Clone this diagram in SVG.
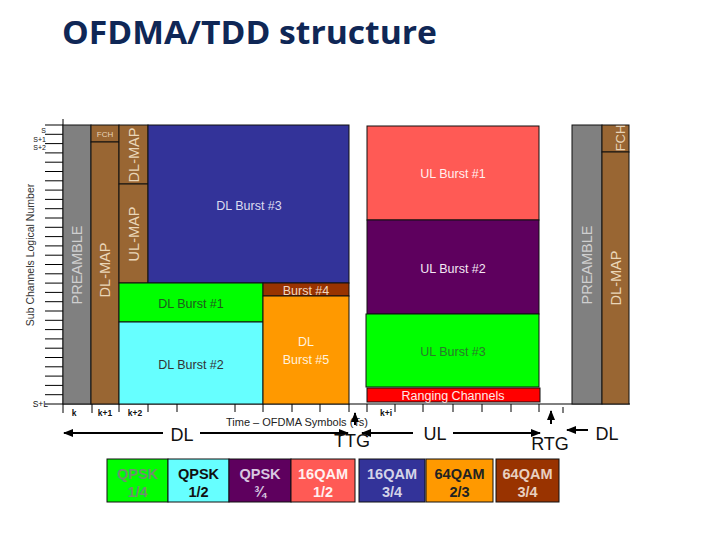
<svg xmlns="http://www.w3.org/2000/svg" width="720" height="540" viewBox="0 0 720 540">
<defs>
<marker id="ah" viewBox="0 0 10 10" refX="9" refY="5" markerWidth="5" markerHeight="5" orient="auto-start-reverse" markerUnits="strokeWidth">
<path d="M0,1 L10,5 L0,9 z" fill="#000"/>
</marker>
<style>
.t{font-family:"Liberation Sans",Arial,sans-serif}
.bx{stroke:#111;stroke-width:1}
.lab{font-family:"Liberation Sans",Arial,sans-serif;font-size:12.5px;text-anchor:middle}
.rot{font-family:"Liberation Sans",Arial,sans-serif;font-size:14.5px;text-anchor:middle}
.lg{font-family:"Liberation Sans",Arial,sans-serif;font-size:14.5px;font-weight:bold;text-anchor:middle}
.ax{stroke:#000;stroke-width:1;fill:none}
.arr{stroke:#000;stroke-width:2;fill:none}
.big{font-family:"Liberation Sans",Arial,sans-serif;font-size:18px;fill:#111}
.sm{font-family:"Liberation Sans",Arial,sans-serif;font-size:8.5px;fill:#111}
.ss{font-family:"Liberation Sans",Arial,sans-serif;font-size:7px;fill:#111;text-anchor:end}
</style>
</defs>
<rect width="720" height="540" fill="#fff"/>
<text x="62" y="44" font-family="'Open Sans','Noto Sans',sans-serif" font-weight="bold" font-size="32" fill="#0f2756" textLength="375" lengthAdjust="spacingAndGlyphs">OFDMA/TDD structure</text>

<g id="axes">
<path class="ax" d="M63,119 V404 M45,404 H630"/>
<path class="ax" d="M45,125H63 M45,134.3H63 M45,143.6H63 M45,152.9H63 M45,162.2H63 M45,171.5H63 M45,180.8H63 M45,190.1H63 M45,199.4H63 M45,208.7H63 M45,218H63 M45,227.3H63 M45,236.6H63 M45,245.9H63 M45,255.2H63 M45,264.5H63 M45,273.8H63 M45,283.1H63 M45,292.4H63 M45,301.7H63 M45,311H63 M45,320.3H63 M45,329.6H63 M45,338.9H63 M45,348.2H63 M45,357.5H63 M45,366.8H63 M45,376.1H63 M45,385.4H63 M45,394.7H63"/>
<path class="ax" d="M63,404V413 M92,404V413 M119,404V412 M148,404V412 M177,404V412 M235,404V412 M263,404V412 M292,404V412 M320,404V412 M349,404V412 M367,404V412 M395,404V412 M423,404V412 M453,404V412 M482,404V412 M511,404V412 M539,404V412 M563,407V413"/>
<text class="ss" x="46" y="133">S</text>
<text class="ss" x="46" y="141.5">S+1</text>
<text class="ss" x="46" y="150">S+2</text>
<text class="sm" x="48" y="407" text-anchor="end">S+L</text>
<text class="t" x="30" y="255" font-size="10.5" fill="#333" text-anchor="middle" transform="rotate(-90 30 255)" dy="3.5">Sub Channels Logical Number</text>
<text class="sm" x="74" y="416" text-anchor="middle" font-weight="bold">k</text>
<text class="sm" x="105" y="416" text-anchor="middle" font-weight="bold">k+1</text>
<text class="sm" x="135" y="416" text-anchor="middle" font-weight="bold">k+2</text>
<text class="sm" x="386" y="416" text-anchor="middle" font-weight="bold">k+i</text>
<text class="t" x="226" y="426" font-size="11" fill="#222">Time – OFDMA Symbols (Ts)</text>
</g>

<g id="preamble-dl">
<rect class="bx" x="63" y="125" width="28" height="279" fill="#808080"/>
<text class="rot" x="77" y="265" dy="5" fill="#cfcfcf" transform="rotate(-90 77 265)">PREAMBLE</text>
</g>
<g id="fch-dl">
<rect class="bx" x="91" y="125" width="28" height="17" fill="#996633"/>
<text class="t" x="105" y="137" font-size="8" fill="#e8d4b8" text-anchor="middle">FCH</text>
</g>
<g id="dlmap-1">
<rect class="bx" x="91" y="142" width="28" height="262" fill="#996633"/>
<text class="rot" x="105" y="270" dy="5" fill="#ead6b8" transform="rotate(-90 105 270)">DL-MAP</text>
</g>
<g id="dlmap-2">
<rect class="bx" x="119" y="125" width="29" height="59" fill="#996633"/>
<text class="rot" x="134" y="155" dy="5" fill="#ead6b8" transform="rotate(-90 134 155)">DL-MAP</text>
</g>
<g id="ulmap">
<rect class="bx" x="119" y="184" width="29" height="99" fill="#996633"/>
<text class="rot" x="134" y="234" dy="5" fill="#ead6b8" transform="rotate(-90 134 234)">UL-MAP</text>
</g>
<g id="dl-burst-3">
<rect class="bx" x="148" y="125" width="201" height="158" fill="#333399"/>
<text class="lab" x="249" y="210" fill="#dcdcf0">DL Burst #3</text>
</g>
<g id="dl-burst-1">
<rect class="bx" x="119" y="283" width="144" height="39" fill="#00ff00"/>
<text class="lab" x="191" y="308" fill="#1e5a1e">DL Burst #1</text>
</g>
<g id="dl-burst-2">
<rect class="bx" x="119" y="322" width="144" height="82" fill="#66ffff"/>
<text class="lab" x="191" y="369" fill="#333">DL Burst #2</text>
</g>
<g id="burst-4">
<rect class="bx" x="263" y="283" width="86" height="13" fill="#993300"/>
<text class="lab" x="306" y="295" fill="#f0d8c0">Burst #4</text>
</g>
<g id="dl-burst-5">
<rect class="bx" x="263" y="296" width="86" height="108" fill="#ff9900"/>
<text class="lab" x="306" y="346" fill="#fff2de">DL</text>
<text class="lab" x="306" y="364" fill="#fff2de">Burst #5</text>
</g>

<g id="ul-burst-1">
<rect class="bx" x="367" y="126" width="172" height="94" fill="#ff5a55"/>
<text class="lab" x="453" y="178" fill="#fff0f0">UL Burst #1</text>
</g>
<g id="ul-burst-2">
<rect class="bx" x="367" y="220" width="172" height="94" fill="#5e005e"/>
<text class="lab" x="453" y="273" fill="#f4e8f4">UL Burst #2</text>
</g>
<g id="ul-burst-3">
<rect class="bx" x="366" y="314" width="173" height="73" fill="#00ff00"/>
<text class="lab" x="453" y="356" fill="#2a7a2a">UL Burst #3</text>
</g>
<g id="ranging">
<rect class="bx" x="367" y="388" width="173" height="14" fill="#ff0000"/>
<text class="lab" x="453" y="400" fill="#ffe8e8">Ranging Channels</text>
</g>

<g id="preamble-next">
<rect class="bx" x="572" y="125" width="30" height="279" fill="#808080"/>
<text class="rot" x="587" y="265" dy="5" fill="#cfcfcf" transform="rotate(-90 587 265)">PREAMBLE</text>
</g>
<g id="fch-next">
<rect class="bx" x="602" y="125" width="27" height="27" fill="#996633"/>
<text class="t" x="620" y="138" dy="4.5" font-size="13" fill="#e8d4b8" text-anchor="middle" transform="rotate(-90 620 138)">FCH</text>
</g>
<g id="dlmap-next">
<rect class="bx" x="602" y="152" width="27" height="252" fill="#996633"/>
<text class="rot" x="616" y="278" dy="5" fill="#ead6b8" transform="rotate(-90 616 278)">DL-MAP</text>
</g>

<g id="connectors">
<line class="arr" x1="163" y1="433" x2="64" y2="433" marker-end="url(#ah)"/>
<line class="arr" x1="200" y1="433" x2="348" y2="433" marker-end="url(#ah)"/>
<line class="arr" x1="413" y1="433" x2="362" y2="433" marker-end="url(#ah)"/>
<line class="arr" x1="453" y1="433" x2="540" y2="433" marker-end="url(#ah)"/>
<line class="arr" x1="588" y1="430" x2="567" y2="430" marker-end="url(#ah)"/>
<line class="arr" x1="355" y1="425" x2="355" y2="413" marker-end="url(#ah)"/>
<line class="arr" x1="551" y1="424" x2="551" y2="411" marker-end="url(#ah)"/>
</g>
<g id="arrow-labels">
<text class="big" x="182" y="441" text-anchor="middle">DL</text>
<text class="big" x="352" y="447" text-anchor="middle">TTG</text>
<text class="big" x="435" y="440" text-anchor="middle">UL</text>
<text class="big" x="550" y="450" text-anchor="middle">RTG</text>
<text class="big" x="607" y="440" text-anchor="middle">DL</text>
</g>

<g id="legend">
<g id="lg-1"><rect class="bx" x="107" y="459" width="61" height="43" fill="#00ff00"/><text class="lg" x="137.5" y="479" fill="#6f8f6f">QPSK</text><text class="lg" x="137.5" y="497" fill="#6f8f6f">1/4</text></g>
<g id="lg-2"><rect class="bx" x="168" y="459" width="61" height="43" fill="#66ffff"/><text class="lg" x="198.5" y="479" fill="#111">QPSK</text><text class="lg" x="198.5" y="497" fill="#111">1/2</text></g>
<g id="lg-3"><rect class="bx" x="229" y="459" width="62" height="43" fill="#5e005e"/><text class="lg" x="260" y="479" fill="#d8c8e0">QPSK</text><text class="lg" x="260" y="497" fill="#d8c8e0">¾</text></g>
<g id="lg-4"><rect class="bx" x="291" y="459" width="64" height="43" fill="#ff5a55"/><text class="lg" x="323" y="479" fill="#fff0f0">16QAM</text><text class="lg" x="323" y="497" fill="#fff0f0">1/2</text></g>
<g id="lg-5"><rect class="bx" x="359" y="459" width="66" height="43" fill="#333399"/><text class="lg" x="392" y="479" fill="#d4d4e8">16QAM</text><text class="lg" x="392" y="497" fill="#d4d4e8">3/4</text></g>
<g id="lg-6"><rect class="bx" x="426" y="459" width="67" height="43" fill="#ff9900"/><text class="lg" x="459.5" y="479" fill="#222">64QAM</text><text class="lg" x="459.5" y="497" fill="#222">2/3</text></g>
<g id="lg-7"><rect class="bx" x="496" y="459" width="63" height="43" fill="#993300"/><text class="lg" x="527.5" y="479" fill="#e8d0c0">64QAM</text><text class="lg" x="527.5" y="497" fill="#e8d0c0">3/4</text></g>
</g>
</svg>
